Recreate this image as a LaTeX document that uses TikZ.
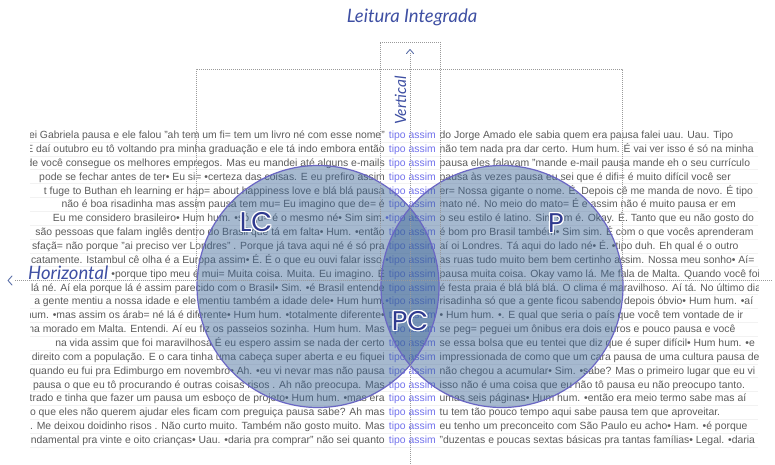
\documentclass[tikz,border=0pt]{standalone}
\usepackage{fontspec}
\setmainfont{Liberation Sans}
\newfontfamily\labfont{Poppins}
\newfontfamily\ttlfont{Lato}
\usetikzlibrary{calc}
\definecolor{txt}{HTML}{5C5C5C}
\definecolor{kw}{HTML}{7272EC}
\definecolor{axisblue}{HTML}{3E4FA3}
\definecolor{chev}{HTML}{5A6FA8}
\definecolor{circfill}{HTML}{3A6496}
\definecolor{circline}{HTML}{6A66C4}
\definecolor{labblue}{HTML}{2F3A8F}
\definecolor{dotgray}{HTML}{9A9A9A}
\tikzset{
  ctx/.style={font=\fontsize{10.4}{12}\selectfont, text=txt, inner sep=0pt},
  leftctx/.style={ctx, anchor=base east},
  rightctx/.style={ctx, anchor=base west},
  kwnode/.style={ctx, text=kw, anchor=base east},
  sep/.style={gray!10, line width=0.5pt},
  guide/.style={dotgray, line width=0.9pt, dash pattern=on 1pt off 1pt},
  chevron/.style={chev, line width=0.9pt, line cap=round, line join=round},
  axislabel/.style={font=\ttlfont\itshape\fontsize{18.5}{21}\selectfont, text=axisblue, inner sep=0pt},
  vennset/.style={circle, minimum size=242pt, inner sep=0pt, fill=circfill, fill opacity=0.45},
  vennrim/.style={circle, minimum size=242pt, inner sep=0pt, draw=circline, line width=1.2pt},
  biglab/.style={font=\labfont\fontsize{27}{30}\selectfont, text=labblue, inner sep=0pt},
}
\newcommand\kwicrow[4]{%
  \pgfmathsetmacro\rowy{135+13.86*(#1-1)+3.6}
  \node[leftctx] (l#1) at (385,\rowy) {#2};
  \node[kwnode] (k#1) at (436,\rowy) {#3};
  \node[rightctx] (r#1) at (439.5,\rowy) {#4};
  \pgfmathsetmacro\sepy{135+13.86*(#1-1)+7}
  \draw[sep] (30,\sepy) -- (758,\sepy);
}
\newcommand\halolabel[2]{%
  \foreach \a in {0,30,...,330}{\node[biglab, text=white] at ($(#1)+(\a:1.2pt)$) {#2};}
  \node[biglab] (#1-t) at (#1) {#2};
}
\begin{document}
\begin{tikzpicture}[x=1pt,y=-1pt]
\useasboundingbox (0,0) rectangle (775,465);
\fill[white] (0,0) rectangle (775,465);
\begin{scope}
\clip (30,120) rectangle (758,452);
\kwicrow{1}{ei Gabriela pausa e ele falou "ah tem um fi= tem um livro né com esse nome"}{tipo assim}{do Jorge Amado ele sabia quem era pausa falei uau. Uau. Tipo}
\kwicrow{2}{E daí outubro eu tô voltando pra minha graduação e ele tá indo embora então}{tipo assim}{não tem nada pra dar certo. Hum hum. É vai ver isso é só na minha}
\kwicrow{3}{de você consegue os melhores empregos. Mas eu mandei até alguns e-mails}{tipo assim}{pausa eles falavam "mande e-mail pausa mande eh o seu currículo}
\kwicrow{4}{pode se fechar antes de ter• Eu si= •certeza das coisas. E eu prefiro assim}{tipo assim}{pausa às vezes pausa eu sei que é difi= é muito difícil você ser}
\kwicrow{5}{t fuge to Buthan eh learning er hap= about happiness love e blá blá pausa}{tipo assim}{er= Nossa gigante o nome. É. Depois cê me manda de novo. É tipo}
\kwicrow{6}{não é boa risadinha mas assim pausa tem mu= Eu imagino que de= é}{tipo assim}{mato né. No meio do mato= É e assim não é muito pausa er em}
\kwicrow{7}{Eu me considero brasileiro• Hum hum. •só qu= é o mesmo né• Sim sim.}{•tipo assim}{o seu estilo é latino. Sim sim é. Okay. É. Tanto que eu não gosto do}
\kwicrow{8}{são pessoas que falam inglês dentro do Brasil que tá em falta• Hum. •então}{tipo assim}{é bom pro Brasil também• Sim sim. É com o que vocês aprenderam}
\kwicrow{9}{sfaçã= não porque "ai preciso ver Londres" . Porque já tava aqui né é só pra}{tipo assim}{aí oi Londres. Tá aqui do lado né• É. •tipo duh. Eh qual é o outro}
\kwicrow{10}{catamente. Istambul cê olha é a Europa assim• É. É o que eu ouvi falar isso.}{•tipo assim}{as ruas tudo muito bem bem certinho assim. Nossa meu sonho• Aí=}
\kwicrow{11}{•porque tipo meu é mui= Muita coisa. Muita. Eu imagino. É}{tipo assim}{pausa muita coisa. Okay vamo lá. Me fala de Malta. Quando você foi}
\kwicrow{12}{lá né. Aí ela porque lá é assim parecido com o Brasil• Sim. •é Brasil entende}{tipo assim}{é festa praia é blá blá blá. O clima é maravilhoso. Aí tá. No último dia}
\kwicrow{13}{a gente mentiu a nossa idade e ele mentiu também a idade dele• Hum hum.}{•tipo assim}{risadinha só que a gente ficou sabendo depois óbvio• Hum hum. •aí}
\kwicrow{14}{hum. •mas assim os árab= né lá é diferente• Hum hum. •totalmente diferente•}{tipo assim}{• Hum hum. •. E qual que seria o país que você tem vontade de ir}
\kwicrow{15}{nha morado em Malta. Entendi. Aí eu fiz os passeios sozinha. Hum hum. Mas}{tipo assim}{se peg= peguei um ônibus era dois euros e pouco pausa e você}
\kwicrow{16}{na vida assim que foi maravilhosa É eu espero assim se nada der certo}{tipo assim}{se essa bolsa que eu tentei que diz que é super difícil• Hum hum. •e}
\kwicrow{17}{direito com a população. E o cara tinha uma cabeça super aberta e eu fiquei}{tipo assim}{impressionada de como que um cara pausa de uma cultura pausa de}
\kwicrow{18}{quando eu fui pra Edimburgo em novembro• Ah. •eu vi nevar mas não pausa}{tipo assim}{não chegou a acumular• Sim. •sabe? Mas o primeiro lugar que eu vi}
\kwicrow{19}{pausa o que eu tô procurando é outras coisas risos . Ah não preocupa. Mas}{tipo assim}{isso não é uma coisa que eu não tô pausa eu não preocupo tanto.}
\kwicrow{20}{trado e tinha que fazer um pausa um esboço de projeto• Hum hum. •mas era}{tipo assim}{umas seis páginas• Hum hum. •então era meio termo sabe mas aí}
\kwicrow{21}{io que eles não querem ajudar eles ficam com preguiça pausa sabe? Ah mas}{tipo assim}{tu tem tão pouco tempo aqui sabe pausa tem que aproveitar.}
\kwicrow{22}{á. Me deixou doidinho risos . Não curto muito. Também não gosto muito. Mas}{tipo assim}{eu tenho um preconceito com São Paulo eu acho• Ham. •é porque}
\kwicrow{23}{ndamental pra vinte e oito crianças• Uau. •daria pra comprar" não sei quanto}{tipo assim}{"duzentas e poucas sextas básicas pra tantas famílias• Legal. •daria}
\end{scope}
% Venn circles
\node[vennset] (LC) at (318,286.5) {};
\node[vennset] (P) at (502,286.5) {};
\node[vennrim] (LCr) at (318,286.5) {};
\node[vennrim] (Pr) at (502,286.5) {};
% dotted frames
\draw[guide] (196,280) -- (196,69) -- (622,69) -- (622,280);
\draw[guide] (380,280) -- (380,42) -- (440,42) -- (440,280);
% axes
\coordinate (hA) at (15,280);
\coordinate (hB) at (772,280);
\coordinate (vA) at (410,53);
\coordinate (vB) at (410,465);
\draw[guide] (hA) -- (hB);
\draw[guide] (vA) -- (vB);
\draw[chevron] ($(hA)+(-3,-4)$) -- ($(hA)+(-7,0.5)$) -- ($(hA)+(-3,5)$);
\draw[chevron] ($(vA)+(-3.5,0.5)$) -- ($(vA)+(0,-3.5)$) -- ($(vA)+(3.5,0.5)$);
\node[axislabel, anchor=base west] (hlab) at (28,279) {Horizontal};
\node[axislabel, anchor=base west, rotate=90, font=\ttlfont\itshape\fontsize{15.5}{18}\selectfont] (vlab) at (406,125) {Vertical};
\node[axislabel] (title) at (412,17) {Leitura Integrada};
% set labels
\coordinate (LCpos) at (256,222);
\coordinate (Ppos) at (556,223);
\coordinate (PCpos) at (410,321);
\halolabel{LCpos}{LC}
\halolabel{Ppos}{P}
\halolabel{PCpos}{PC}
\end{tikzpicture}
\end{document}
